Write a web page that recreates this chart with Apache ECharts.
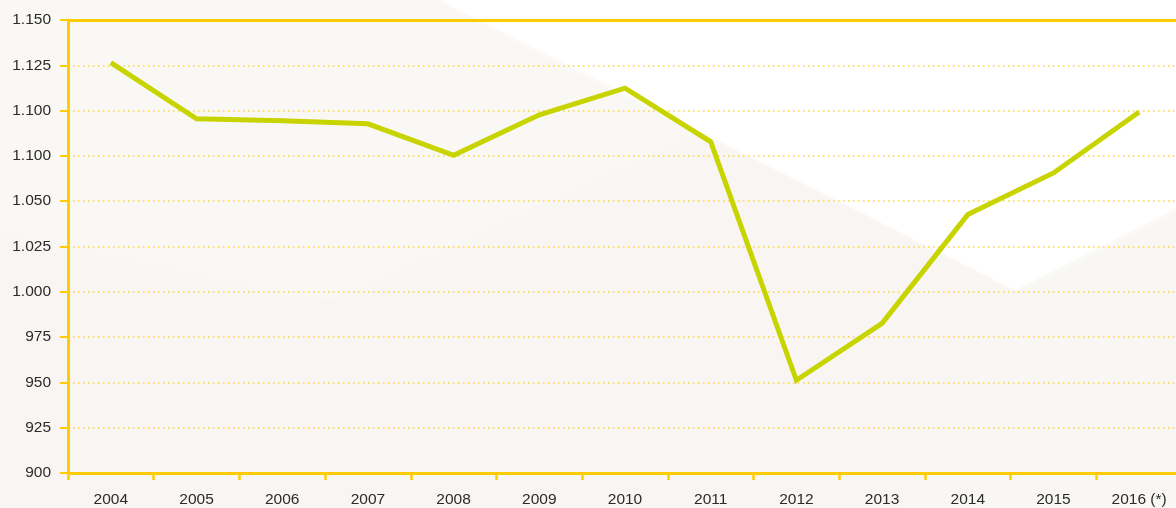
<!DOCTYPE html>
<html>
<head>
<meta charset="utf-8">
<script src="https://cdn.jsdelivr.net/npm/echarts@6/dist/echarts.min.js"></script>
<style>
  html, body { margin: 0; padding: 0; width: 1176px; height: 508px; overflow: hidden; background: #f8f5f2; }
  #chart { width: 1182px; height: 508px; }
</style>
</head>
<body>
<div id="chart"></div>
<script>
// Years on the horizontal axis
const years = ['2004', '2005', '2006', '2007', '2008', '2009', '2010', '2011', '2012', '2013', '2014', '2015', '2016 (*)'];
// Yearly values
const values = [1126.5, 1095.5, 1094.4, 1092.7, 1075.3, 1097.7, 1112.4, 1082.8, 951.2, 982.6, 1042.6, 1065.6, 1099.2];
// Vertical axis tick values and the text printed for each
const yTickValues = [900, 925, 950, 975, 1000, 1025, 1050, 1075, 1100, 1125, 1150];
const yTickLabels = ['900', '925', '950', '975', '1.000', '1.025', '1.050', '1.100', '1.100', '1.125', '1.150'];

const gold = '#ffcc00';
const lineGreen = '#c8d400';
const textFont = '"Liberation Sans", Arial, sans-serif';

const chart = echarts.init(document.getElementById('chart'), null, { renderer: 'canvas' });

chart.setOption({
  backgroundColor: '#f8f5f2',
  animation: false,
  graphic: [
    // soft light shapes in the backdrop
    { type: 'polygon', z: -10, silent: true,
      shape: { points: [[0, 0], [440, 0], [700, 130], [330, 300], [0, 230]] },
      style: { fill: '#faf8f5', shadowBlur: 40, shadowColor: '#faf8f5' } },
    { type: 'polygon', z: -9, silent: true,
      shape: { points: [[440, 0], [1182, 0], [1182, 205], [1015, 290]] },
      style: { fill: '#ffffff', shadowBlur: 6, shadowColor: '#ffffff' } },
    { type: 'polygon', z: -10, silent: true,
      shape: { points: [[1015, 290], [1182, 205], [1182, 508], [900, 508]] },
      style: { fill: '#f9f7f4', shadowBlur: 30, shadowColor: '#f9f7f4' } }
  ],
  grid: { left: 68, right: 0, top: 20, bottom: 34, containLabel: false },
  xAxis: [
    {
      type: 'category',
      data: years,
      boundaryGap: true,
      axisLine: { lineStyle: { color: gold, width: 3 } },
      axisTick: { show: true, alignWithLabel: false, length: 7, lineStyle: { color: gold, width: 2.5 } },
      axisLabel: { color: '#2b2b2b', fontSize: 15.5, fontFamily: textFont, margin: 19 },
      splitLine: { show: false }
    },
    {
      type: 'category',
      data: years,
      position: 'top',
      boundaryGap: true,
      axisLine: { lineStyle: { color: gold, width: 3 } },
      axisTick: { show: false },
      axisLabel: { show: false },
      splitLine: { show: false }
    }
  ],
  yAxis: {
    type: 'value',
    min: 900,
    max: 1150,
    interval: 25,
    axisLine: { show: true, lineStyle: { color: gold, width: 3 } },
    axisTick: { show: true, length: 8, lineStyle: { color: gold, width: 2 } },
    axisLabel: {
      color: '#2b2b2b', fontSize: 15.5, fontFamily: textFont, margin: 17,
      formatter: function (v) {
        const i = yTickValues.indexOf(v);
        return i >= 0 ? yTickLabels[i] : '';
      }
    },
    splitLine: {
      show: true,
      lineStyle: { color: '#ffd43a', width: 1.5, type: [1.5, 3.5] }
    }
  },
  series: [
    {
      type: 'line',
      data: values,
      xAxisIndex: 0,
      showSymbol: false,
      symbol: 'none',
      lineStyle: { color: lineGreen, width: 5, cap: 'butt', join: 'miter' },
      z: 5
    }
  ]
});
</script>
</body>
</html>
